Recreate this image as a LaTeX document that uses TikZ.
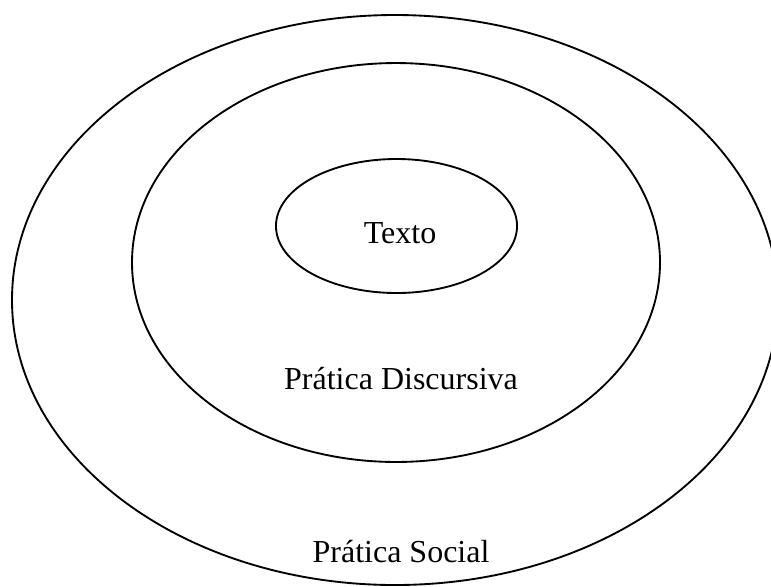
\documentclass[tikz,border=0pt]{standalone}
\usepackage{fontspec}
\setmainfont{Liberation Serif}
\usetikzlibrary{shapes,positioning}

\begin{document}
\begin{tikzpicture}[x=0.375pt, y=-0.375pt,
    every node/.style={font=\fontsize{12}{14}\selectfont},
    ring/.style={draw, ellipse, line width=0.7pt, inner sep=0pt, outer sep=0pt}]
    \useasboundingbox (0, 0) rectangle (771, 586);
    \clip (0, 0) rectangle (771, 586);

    % Layers
    \node[ring, minimum width=287.25pt, minimum height=213.75pt] (social) at (395, 300) {};
    \node[ring, minimum width=198pt, minimum height=149.6pt] (discursiva) at (396, 262.5) {};
    \node[ring, minimum width=90.4pt, minimum height=50.25pt] (texto) at (396.5, 226) {};

    % Labels
    \node[anchor=base] (textolbl) at (400, 243) {Texto};
    \node[anchor=base] (discursivalbl) at (401, 389) {Prática Discursiva};
    \node[anchor=base] (sociallbl) at (401, 562) {Prática Social};

\end{tikzpicture}
\end{document}
